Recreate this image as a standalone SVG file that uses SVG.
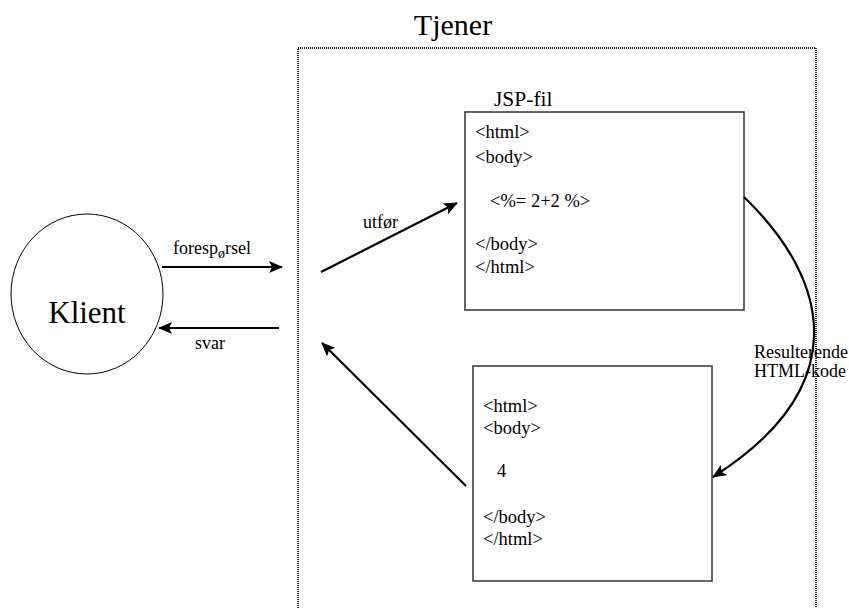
<svg xmlns="http://www.w3.org/2000/svg" width="849" height="608" viewBox="0 0 849 608">
<style>
.t{font-family:"Liberation Serif","Times New Roman",serif;fill:#000}
.code{font-size:18.5px}
.lbl{font-size:18px}
.box{fill:#fff;stroke:#333;stroke-width:1.5}
.arr{fill:none;stroke:#000;stroke-width:2.2}
</style>
<defs>
<marker id="ah" markerUnits="userSpaceOnUse" markerWidth="14" markerHeight="12" viewBox="0 0 14 12" refX="13" refY="6" orient="auto">
<path d="M0,0 L14,6 L0,12 L3,6 Z" fill="#000"/>
</marker>
</defs>
<rect width="849" height="608" fill="#fff"/>
<g id="tjener">
<rect x="298" y="48" width="518" height="580" fill="none" stroke="#222" stroke-width="2" stroke-dasharray="1 1"/>
<text class="t" x="453" y="35" font-size="30" text-anchor="middle">Tjener</text>
</g>
<g id="klient">
<ellipse cx="87" cy="294" rx="76" ry="80" fill="#fff" stroke="#000" stroke-width="1"/>
<text class="t" x="87" y="323" font-size="31" text-anchor="middle">Klient</text>
</g>
<g id="jsp">
<text class="t" x="494" y="106" font-size="21.5">JSP-fil</text>
<rect class="box" x="465" y="112" width="279" height="198"/>
<text class="t code" x="475" y="138">&lt;html&gt;</text>
<text class="t code" x="475" y="163">&lt;body&gt;</text>
<text class="t code" x="490" y="207">&lt;%= 2+2 %&gt;</text>
<text class="t code" x="475" y="250">&lt;/body&gt;</text>
<text class="t code" x="475" y="273">&lt;/html&gt;</text>
</g>
<g id="resultat">
<rect class="box" x="473" y="366" width="239" height="215" stroke="#555"/>
<text class="t code" x="483" y="412">&lt;html&gt;</text>
<text class="t code" x="483" y="434">&lt;body&gt;</text>
<text class="t code" x="497" y="477">4</text>
<text class="t code" x="483" y="523">&lt;/body&gt;</text>
<text class="t code" x="483" y="545">&lt;/html&gt;</text>
</g>
<g id="connectors">
<line class="arr" x1="162" y1="267" x2="282" y2="267" marker-end="url(#ah)"/>
<text class="t lbl" x="173" y="254">foresp<tspan font-size="14" dy="4">ø</tspan><tspan dy="-4">rsel</tspan></text>
<line class="arr" x1="279" y1="328" x2="159" y2="328" marker-end="url(#ah)"/>
<text class="t lbl" x="195" y="349">svar</text>
<line class="arr" x1="321" y1="272" x2="457" y2="203" marker-end="url(#ah)"/>
<text class="t lbl" x="363" y="228">utfør</text>
<line class="arr" x1="466" y1="486" x2="322" y2="343" marker-end="url(#ah)"/>
<path class="arr" d="M744,197 C835,285 850,390 713,477" marker-end="url(#ah)"/>
<text class="t lbl" x="754" y="358">Resulterende</text>
<text class="t lbl" x="754" y="377">HTML-kode</text>
</g>
</svg>
